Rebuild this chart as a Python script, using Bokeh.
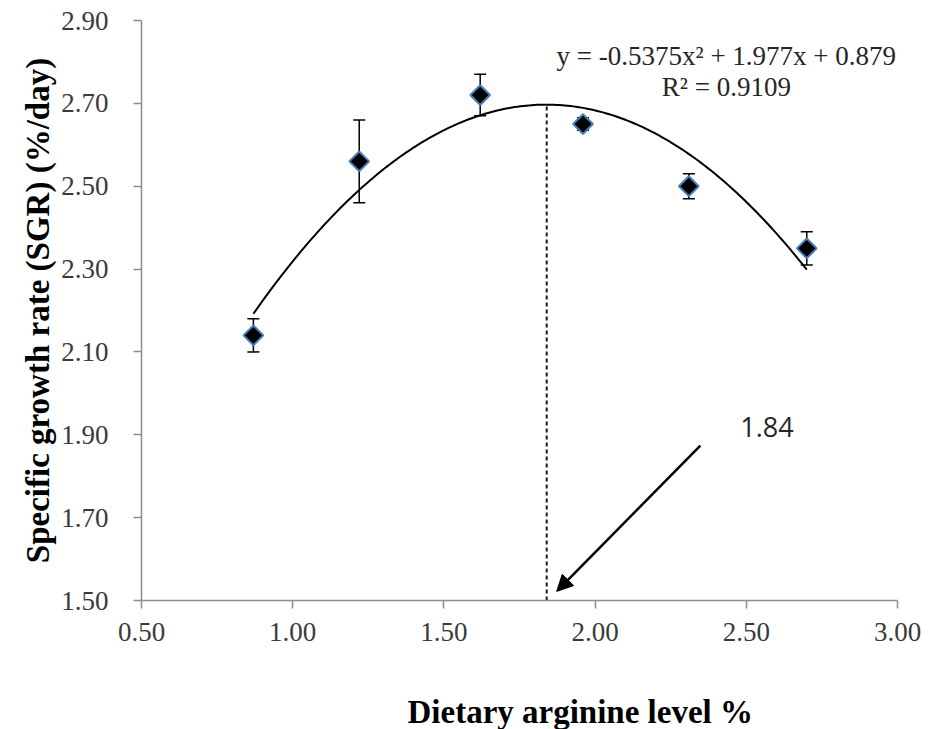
import numpy as np
from bokeh.plotting import figure
from bokeh.models import (ColumnDataSource, Range1d, FixedTicker, NumeralTickFormatter,
                          Whisker, TeeHead, Label, Arrow, NormalHead, Title)
from bokeh.embed import file_html
from bokeh.resources import INLINE

# ---- data ----
ARGININE = [0.87, 1.22, 1.62, 1.96, 2.31, 2.70]          # Dietary arginine level %
SGR = [2.14, 2.56, 2.72, 2.65, 2.50, 2.35]               # Specific growth rate (%/day)
SGR_ERR = [0.04, 0.10, 0.05, 0.015, 0.03, 0.04]          # error bar half-lengths
FIT_COEFFS = [-0.5375, 1.977, 0.879]                     # y = a x^2 + b x + c (from chart)
R2 = 0.9109
OPT_X = 1.84
X_TICKS = [0.5, 1.0, 1.5, 2.0, 2.5, 3.0]
Y_TICKS = [1.5, 1.7, 1.9, 2.1, 2.3, 2.5, 2.7, 2.9]

SERIF = "Liberation Serif"
TICK_COLOR = "#3a3a3a"
AXIS_COLOR = "#8c8c8c"

p = figure(width=935, height=729, output_backend="svg", toolbar_location=None,
           x_range=Range1d(X_TICKS[0], X_TICKS[-1]), y_range=Range1d(Y_TICKS[0], Y_TICKS[-1]),
           min_border_left=141, min_border_right=38, min_border_top=20, min_border_bottom=129)
p.outline_line_color = None
p.xgrid.grid_line_color = None
p.ygrid.grid_line_color = None
p.background_fill_color = "white"
p.border_fill_color = "white"

# axes
p.xaxis.ticker = FixedTicker(ticks=X_TICKS)
p.yaxis.ticker = FixedTicker(ticks=Y_TICKS)
p.xaxis.formatter = NumeralTickFormatter(format="0.00")
p.yaxis.formatter = NumeralTickFormatter(format="0.00")
for axes in (p.xaxis, p.yaxis):
    axes.axis_line_color = AXIS_COLOR
    axes.axis_line_width = 1.5
    axes.major_tick_line_color = AXIS_COLOR
    axes.major_tick_line_width = 1.5
    axes.major_tick_in = 0
    axes.major_tick_out = 8
    axes.minor_tick_line_color = None
    axes.major_label_text_font = SERIF
    axes.major_label_text_font_size = "27px"
    axes.major_label_text_color = TICK_COLOR
p.yaxis.major_label_standoff = 25
p.xaxis.major_label_standoff = 14

p.yaxis.axis_label = "Specific growth rate (SGR) (%/day)"
p.yaxis.axis_label_text_font = SERIF
p.yaxis.axis_label_text_font_style = "bold"
p.yaxis.axis_label_text_font_size = "33px"
p.yaxis.axis_label_text_color = "black"
p.yaxis.axis_label_standoff = 2

# x axis title (placed lower and to the right, as in the reference)
p.add_layout(Title(text=" ", text_font_size="13px", standoff=31), "below")   # spacer
p.add_layout(Title(text="Dietary arginine level %", text_font=SERIF,
                   text_font_style="bold", text_font_size="33px", text_color="black",
                   align="left", offset=266, standoff=0), "below")

# fitted trend line, drawn from the equation shown on the chart
a, b, c = FIT_COEFFS
xs = np.linspace(min(ARGININE), max(ARGININE), 200)
p.line(xs, a * xs**2 + b * xs + c, line_color="black", line_width=2)

# optimum dashed line
opt_y = a * OPT_X**2 + b * OPT_X + c
p.segment(x0=[OPT_X], y0=[Y_TICKS[0]], x1=[OPT_X], y1=[opt_y],
          line_color="#1a1a1a", line_width=2, line_dash="4 3")

# error bars
src = ColumnDataSource(dict(x=ARGININE, y=SGR,
                            lo=[v - e for v, e in zip(SGR, SGR_ERR)],
                            hi=[v + e for v, e in zip(SGR, SGR_ERR)]))
p.add_layout(Whisker(source=src, base="x", lower="lo", upper="hi",
                     line_color="black", line_width=1.5,
                     lower_head=TeeHead(size=12, line_color="black", line_width=1.5),
                     upper_head=TeeHead(size=12, line_color="black", line_width=1.5)))

# data markers: black diamonds with blue outline
p.scatter("x", "y", source=src, marker="square", angle=np.pi / 4, size=14,
          fill_color="black", line_color="#4a7ebb", line_width=2)

# equation and R^2
p.add_layout(Label(x=2.434, y=2.8155, text="y = -0.5375x² + 1.977x + 0.879",
                   text_font=SERIF, text_font_size="27px", text_color="#262626",
                   text_align="center", text_baseline="middle"))
p.add_layout(Label(x=2.434, y=2.74, text=f"R² = {R2}",
                   text_font=SERIF, text_font_size="27px", text_color="#262626",
                   text_align="center", text_baseline="middle"))

# arrow and optimum label
p.add_layout(Arrow(x_start=2.348, y_start=1.874, x_end=1.873, y_end=1.522,
                   line_color="black", line_width=2.5,
                   end=NormalHead(size=16, fill_color="black", line_color="black")))
p.add_layout(Label(x=2.48, y=1.9176, text=f"{OPT_X:.2f}", text_font="Open Sans",
                   text_font_size="27px", text_color="#262626",
                   text_align="left", text_baseline="middle"))

open("out.html", "w").write(file_html(p, INLINE))
